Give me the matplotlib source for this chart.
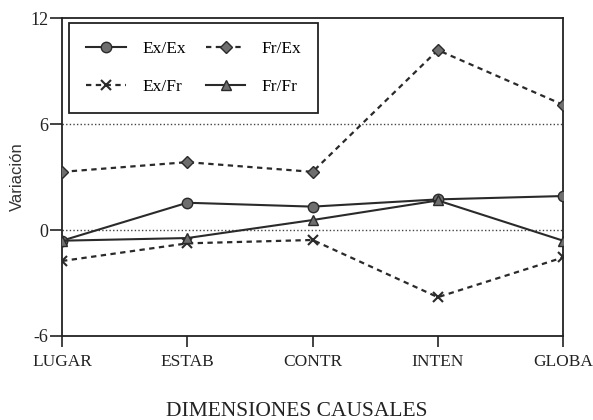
import matplotlib
matplotlib.use("Agg")
import matplotlib.pyplot as plt

# Variación por dimensión causal en los cuatro grupos
dimensiones = ["LUGAR", "ESTAB", "CONTR", "INTEN", "GLOBA"]
ex_ex = [-0.6, 1.55, 1.33, 1.74, 1.93]
fr_ex = [3.3, 3.85, 3.3, 10.2, 7.1]
ex_fr = [-1.75, -0.75, -0.56, -3.8, -1.55]
fr_fr = [-0.6, -0.45, 0.57, 1.68, -0.6]

plt.rcParams["font.family"] = ["Liberation Serif", "DejaVu Serif"]
plt.rcParams["axes.unicode_minus"] = False

fig = plt.figure(figsize=(5.93, 4.20), dpi=100)
ax = fig.add_axes([0.1046, 0.2, 0.845, 0.7564])

x = range(len(dimensiones))
linea = "#2a2a2a"
relleno = "#6e6e6e"
guion = (0, (2.4, 2.0))

# lineas de referencia punteadas
for yv in (0, 6):
    ax.axhline(yv, color="#444444", lw=1.0, ls=(0, (1, 1.6)), zorder=1)

ax.plot(x, ex_ex, color=linea, lw=1.5, marker="o", ms=7.5,
        mfc=relleno, mec=linea, mew=1.0, label="Ex/Ex", zorder=3)
ax.plot(x, ex_fr, color=linea, lw=1.6, ls=guion, marker="x", ms=7,
        mec=linea, mew=1.5, label="Ex/Fr", zorder=3)
ax.plot(x, fr_ex, color=linea, lw=1.6, ls=guion, marker="D", ms=6.3,
        mfc=relleno, mec=linea, mew=1.0, label="Fr/Ex", zorder=3)
ax.plot(x, fr_fr, color=linea, lw=1.5, marker="^", ms=7.5,
        mfc=relleno, mec=linea, mew=1.0, label="Fr/Fr", zorder=3)

ax.set_xlim(0, len(dimensiones) - 1)
ax.set_ylim(-6, 12)
ax.set_yticks([-6, 0, 6, 12])
ax.set_xticks(list(x))
ax.set_xticklabels(dimensiones)

for s in ax.spines.values():
    s.set_color("#222222")
    s.set_linewidth(1.3)

ax.tick_params(axis="y", direction="out", length=9, width=1.2, pad=1,
               labelsize=13, colors="#222222")
ax.tick_params(axis="x", direction="out", length=8, width=1.2, pad=5,
               labelsize=12.5, colors="#222222")

# títulos de los ejes
fig.text(297 / 593, 1 - 416 / 420, "DIMENSIONES CAUSALES",
         fontsize=15.5, ha="center", va="baseline", color="#222222")
fig.text(17 / 593, 1 - 177 / 420, "Variación", rotation=90, fontsize=12,
         family=["Liberation Sans", "DejaVu Sans"], ha="center", va="center",
         color="#333333")

leg = ax.legend(ncol=2, loc="upper left", bbox_to_anchor=(0.014, 0.985),
                borderaxespad=0, fontsize=12.5, handlelength=2.3,
                handletextpad=0.9, columnspacing=1.15, labelspacing=1.3,
                borderpad=1.0, fancybox=False, framealpha=1)
leg.get_frame().set_edgecolor("#222222")
leg.get_frame().set_linewidth(1.3)

fig.savefig("out.png", dpi=100)
